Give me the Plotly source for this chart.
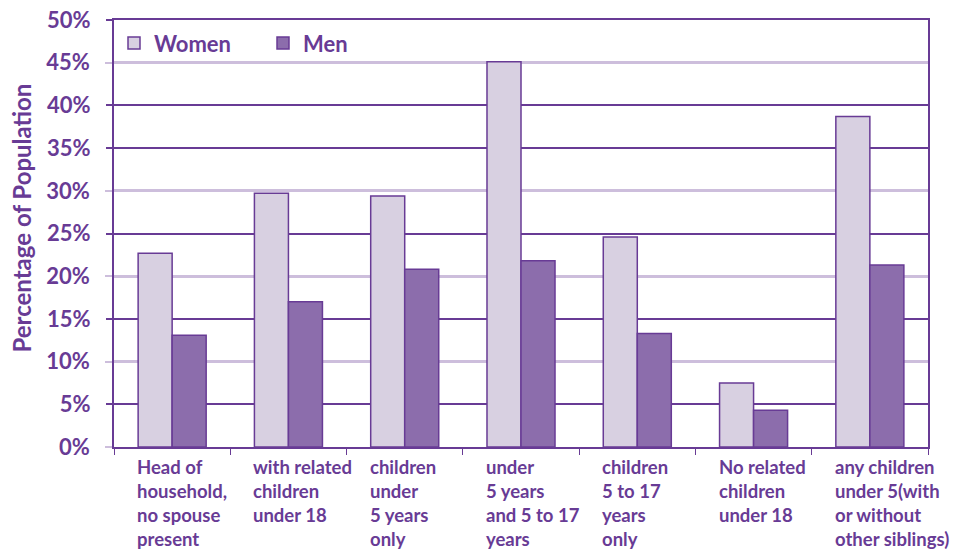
import plotly.graph_objects as go

categories = [
    "Head of<br>household,<br>no spouse<br>present",
    "with related<br>children<br>under 18",
    "children<br>under<br>5 years<br>only",
    "under<br>5 years<br>and 5 to 17<br>years",
    "children<br>5 to 17<br>years<br>only",
    "No related<br>children<br>under 18",
    "any children<br>under 5(with<br>or without<br>other siblings)",
]
women = [22.7, 29.7, 29.4, 45.1, 24.6, 7.5, 38.7]
men = [13.1, 17.0, 20.8, 21.8, 13.3, 4.3, 21.3]
dark_ticks = [5, 15, 25, 35, 40, 50]
light_ticks = [0, 10, 20, 30, 45]
y_title = "Percentage of Population"

DARK = "#683b95"
LIGHT = "#cdbedc"
FONT = "Lato"

fig = go.Figure()
# empty helper trace so the base axis pair is drawn
fig.add_trace(go.Scatter(x=[], y=[], showlegend=False, hoverinfo="skip"))
fig.add_trace(go.Bar(x=categories, y=women, name="Women", yaxis="y2",
                     marker=dict(color="#d8d0e1", line=dict(color=DARK, width=1.5))))
fig.add_trace(go.Bar(x=categories, y=men, name="Men", yaxis="y2",
                     marker=dict(color="#8c6dac", line=dict(color=DARK, width=1.5))))

for c in categories:
    fig.add_annotation(x=c, y=0, xref="x", yref="paper", xanchor="left", yanchor="top",
                       xshift=-37, yshift=-7, text=c, showarrow=False, align="left",
                       font=dict(family=FONT, size=18.5, color=DARK, weight="bold"))

fig.add_annotation(x=-0.113, y=0.535, xref="paper", yref="paper", xanchor="center",
                   yanchor="middle", textangle=-90, text=y_title, showarrow=False,
                   font=dict(family=FONT, size=24, color=DARK, weight="bold"))

fig.update_layout(
    width=963, height=557,
    margin=dict(l=114, r=35, t=20, b=110, autoexpand=False),
    paper_bgcolor="white", plot_bgcolor="white",
    barmode="group", bargap=0.415, bargroupgap=0,
    showlegend=True,
    legend=dict(orientation="h", x=0.0, y=0.995, xanchor="left", yanchor="top",
                bgcolor="rgba(0,0,0,0)", traceorder="normal",
                entrywidth=104, entrywidthmode="pixels",
                font=dict(family=FONT, size=22, color=DARK, weight="bold")),
    xaxis=dict(categoryorder="array", categoryarray=categories, range=[-0.5, 6.5],
               autorange=False, automargin=False,
               showticklabels=False, ticks="outside", tickson="boundaries", ticklen=6,
               tickcolor=DARK, showline=True, linecolor=DARK, linewidth=1.5, mirror=True,
               showgrid=False),
    yaxis=dict(range=[0, 50], tickvals=light_ticks, ticktext=[f"{v}%" for v in light_ticks],
               automargin=False,
               ticks="outside", ticklen=7, tickcolor=LIGHT, tickwidth=2,
               showgrid=True, gridcolor=LIGHT, gridwidth=2.5, zeroline=False,
               showline=True, linecolor=DARK, linewidth=1.5, mirror=True,
               ticklabelstandoff=11,
               tickfont=dict(family=FONT, size=22, color=DARK, weight="bold")),
    yaxis2=dict(range=[0, 50], overlaying="y", side="left", tickvals=dark_ticks,
                ticktext=[f"{v}%" for v in dark_ticks], automargin=False,
                ticks="outside", ticklen=7, tickcolor=DARK, tickwidth=1.5,
                showgrid=True, gridcolor=DARK, gridwidth=1.5, zeroline=False,
                showline=False, ticklabelstandoff=11,
                tickfont=dict(family=FONT, size=22, color=DARK, weight="bold")),
)

fig.write_html("out.html")
